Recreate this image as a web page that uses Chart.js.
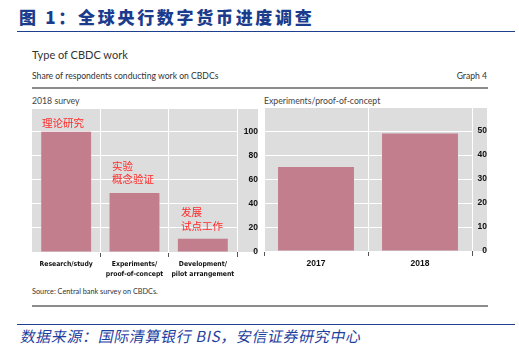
<!DOCTYPE html>
<html>
<head>
<meta charset="utf-8">
<script src="https://cdn.jsdelivr.net/npm/chart.js@4/dist/chart.umd.min.js"></script>
<style>
  html, body { margin:0; padding:0; background:#fff; }
  body { width:519px; height:357px; position:relative; overflow:hidden; font-family:Lato, "Liberation Sans", sans-serif; }
  .abs { position:absolute; white-space:nowrap; }
  #hdr { left:19px; top:5px; font-family:"Noto Sans CJK SC", sans-serif; font-weight:900; font-size:17px; color:#1B3C8C; letter-spacing:2.7px; line-height:24px; }
  .blue { position:absolute; left:17px; width:498px; height:1px; background:#1F3F8F; }
  .grey { position:absolute; left:32px; width:456px; height:2px; background:#8c8c8c; }
  #t1 { left:32px; top:47px; font-size:11px; color:#333; line-height:15px; }
  #t2 { left:32px; top:70px; font-size:8.6px; color:#333; line-height:12px; }
  #g4 { right:32px; top:70px; font-size:8.6px; color:#333; line-height:12px; }
  .ptitle { top:95px; font-size:8.7px; color:#444; line-height:11px; }
  #src { left:32px; top:287px; font-size:7.3px; color:#333; line-height:10px; }
  #foot { left:19px; top:327px; font-family:"Noto Sans CJK SC", sans-serif; font-size:15px; color:#1F3F9F; line-height:18px; letter-spacing:0.6px; transform:skewX(-12deg); transform-origin:left bottom; }
  .red { font-family:"Noto Sans CJK SC", sans-serif; font-size:10.5px; color:#FF2A2A; line-height:13px; }
  #c1wrap { position:absolute; left:32px; top:109px; width:226px; height:169px; }
  #c2wrap { position:absolute; left:264px; top:108px; width:223px; height:169px; }
</style>
</head>
<body>
<div id="hdr" class="abs">图 1：全球央行数字货币进度调查</div>
<div class="blue" style="top:31px"></div>
<div id="t1" class="abs">Type of CBDC work</div>
<div id="t2" class="abs">Share of respondents conducting work on CBDCs</div>
<div id="g4" class="abs">Graph 4</div>
<div class="grey" style="top:87px"></div>
<div class="abs ptitle" style="left:32px">2018 survey</div>
<div class="abs ptitle" style="left:264px">Experiments/proof-of-concept</div>
<div id="c1wrap"><canvas id="c1"></canvas></div>
<div id="c2wrap"><canvas id="c2"></canvas></div>
<div class="abs red" style="left:42px; top:116px">理论研究</div>
<div class="abs red" style="left:112px; top:159px">实验</div>
<div class="abs red" style="left:112px; top:172px">概念验证</div>
<div class="abs red" style="left:181px; top:205px">发展</div>
<div class="abs red" style="left:181px; top:219px">试点工作</div>
<div id="src" class="abs">Source: Central bank survey on CBDCs.</div>
<div class="grey" style="top:305px"></div>
<div class="blue" style="top:324px"></div>
<div id="foot" class="abs">数据来源：国际清算银行 BIS，安信证券研究中心</div>

<script>
// ---- data ----
const surveyCategories = [['Research/study'], ['Experiments/', 'proof-of-concept'], ['Development/', 'pilot arrangement']];
const surveyShares = [100, 49, 11];
const surveyTicks = [0, 20, 40, 60, 80, 100];
const pocYears = ['2017', '2018'];
const pocShares = [35, 49];
const pocTicks = [0, 10, 20, 30, 40, 50];

const barColor = '#C27E8D';
const bgGrey = '#DDDDDD';
const xFontSmall = { family: '"DejaVu Sans Condensed", "Liberation Sans", Arial, sans-serif', size: 6.8, weight: 'bold', lineHeight: 1.35 };
const xFontYears = { family: '"Liberation Sans", Arial, sans-serif', size: 8.5, weight: 'bold' };
const yFont = { family: '"Liberation Sans", Arial, sans-serif', size: 8.5, weight: 'bold' };

const greyBg = {
  id: 'greyBg',
  beforeDraw(chart) {
    const a = chart.chartArea, ctx = chart.ctx;
    ctx.save();
    ctx.fillStyle = bgGrey;
    ctx.fillRect(a.left, a.top, chart.width - a.left, a.bottom - a.top);
    ctx.restore();
  }
};

function makeChart(id, labels, values, max, tickVals, yWidth, xFont) {
  return new Chart(document.getElementById(id), {
    type: 'bar',
    data: { labels: labels, datasets: [{ data: values, backgroundColor: barColor, borderWidth: 0, categoryPercentage: 1, barPercentage: 0.73 }] },
    options: {
      responsive: true, maintainAspectRatio: false, animation: false,
      layout: { padding: 0 },
      plugins: { legend: { display: false }, tooltip: { enabled: false } },
      scales: {
        x: {
          offset: true,
          grid: { offset: true, color: '#ffffff', tickColor: '#555555', tickLength: 5, lineWidth: 1 },
          border: { display: false },
          afterFit: s => { s.height = 26; s.paddingLeft = 0; s.paddingRight = 0; },
          ticks: { color: '#111', font: xFont, padding: 3, maxRotation: 0, autoSkip: false }
        },
        y: {
          position: 'right', min: 0, max: max,
          grid: { color: '#ffffff', drawTicks: false, lineWidth: 1 },
          border: { display: false },
          afterBuildTicks: s => { s.ticks = tickVals.map(v => ({ value: v })); },
          afterFit: s => { s.width = yWidth; s.paddingTop = 0; s.paddingBottom = 0; },
          ticks: { color: '#111', font: yFont, padding: 2, crossAlign: 'far' }
        }
      }
    },
    plugins: [greyBg]
  });
}

makeChart('c1', surveyCategories, surveyShares, 119, surveyTicks, 21, xFontSmall);
makeChart('c2', pocYears, pocShares, 59.6, pocTicks, 15, xFontYears);
</script>
</body>
</html>
